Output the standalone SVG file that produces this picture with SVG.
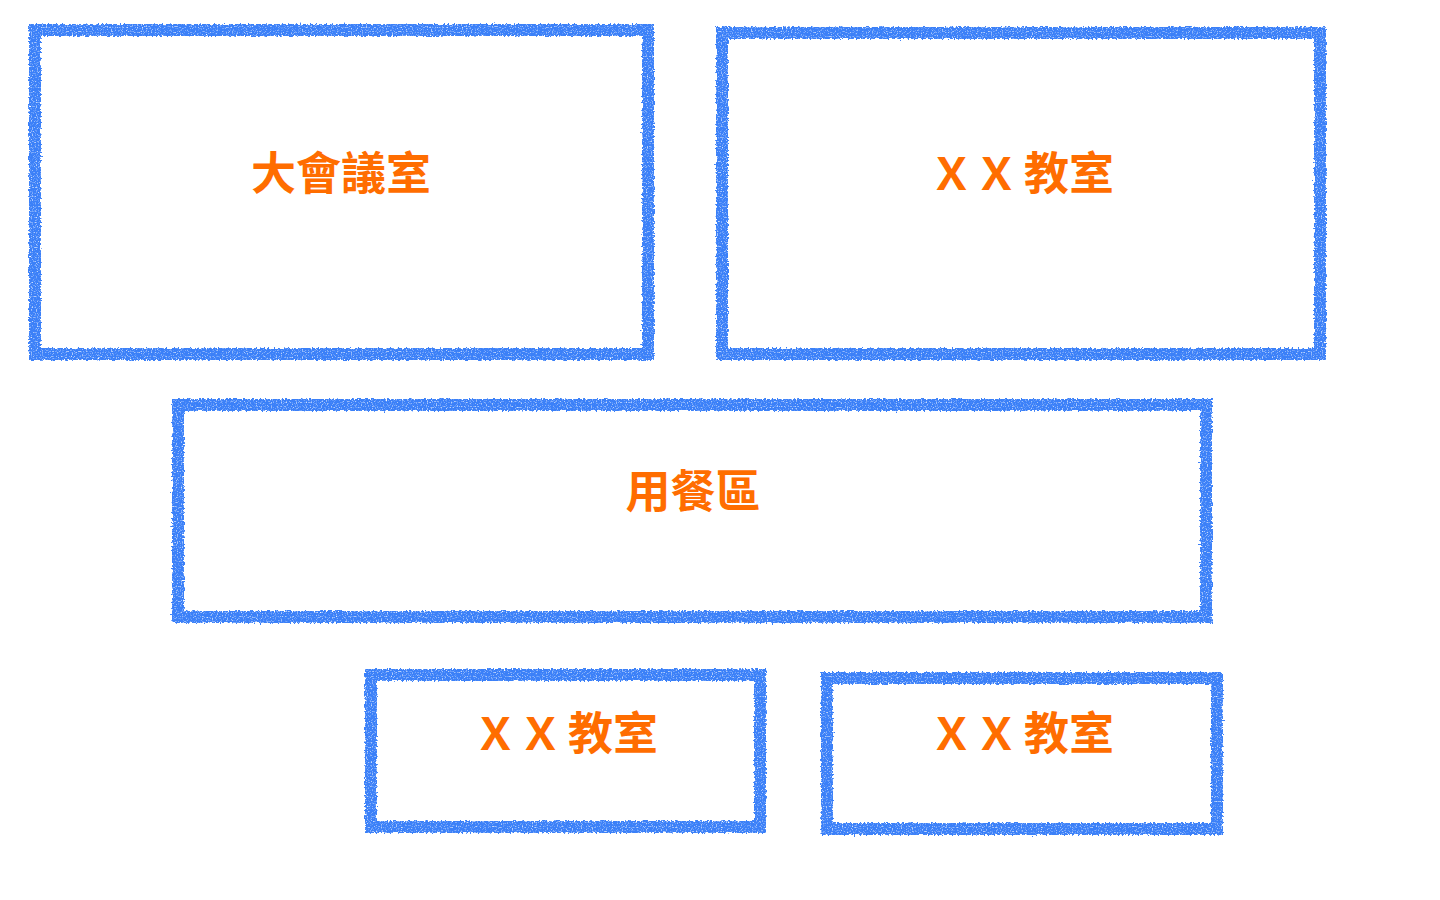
<svg xmlns="http://www.w3.org/2000/svg" width="1440" height="900" viewBox="0 0 1440 900">
  <defs>
    <filter id="rough" x="-5%" y="-5%" width="110%" height="110%">
      <feTurbulence type="fractalNoise" baseFrequency="0.5" numOctaves="2" seed="3" result="noise"/>
      <feDisplacementMap in="SourceGraphic" in2="noise" scale="5" xChannelSelector="R" yChannelSelector="G" result="disp"/>
      <feTurbulence type="fractalNoise" baseFrequency="0.8" numOctaves="1" seed="7" result="speck"/>
      <feColorMatrix in="speck" type="matrix" values="0 0 0 0 0  0 0 0 0 0  0 0 0 0 0  0 0 0 -3 2.6" result="mask"/>
      <feComposite in="disp" in2="mask" operator="in"/>
    </filter>
    <style>
      .room { fill: none; stroke: #3a80f8; stroke-width: 12; stroke-linejoin: miter; filter: url(#rough); }
      .label { fill: #ff6d00; font-family: "Noto Sans CJK TC", "Noto Sans CJK SC", "Noto Sans", sans-serif; font-weight: bold; font-size: 45px; text-anchor: middle; }
      .lx { text-anchor: start; }
    </style>
  </defs>
  <rect width="1440" height="900" fill="#ffffff"/>
  <g id="connectors"/>
  <g id="room-conference">
    <rect class="room" x="35" y="30" width="613" height="324"/>
    <text class="label" x="341" y="190">大會議室</text>
  </g>
  <g id="room-classroom-1">
    <rect class="room" x="722" y="33" width="598" height="321"/>
    <text class="label lx" x="929" y="190">ＸＸ<tspan x="1024">教室</tspan></text>
  </g>
  <g id="room-dining">
    <rect class="room" x="178" y="405" width="1028" height="212"/>
    <text class="label" x="693" y="508">用餐區</text>
  </g>
  <g id="room-classroom-2">
    <rect class="room" x="371" y="675" width="389" height="152"/>
    <text class="label lx" x="473" y="750">ＸＸ<tspan x="568">教室</tspan></text>
  </g>
  <g id="room-classroom-3">
    <rect class="room" x="827" y="678" width="390" height="151"/>
    <text class="label lx" x="929" y="750">ＸＸ<tspan x="1024">教室</tspan></text>
  </g>
</svg>
